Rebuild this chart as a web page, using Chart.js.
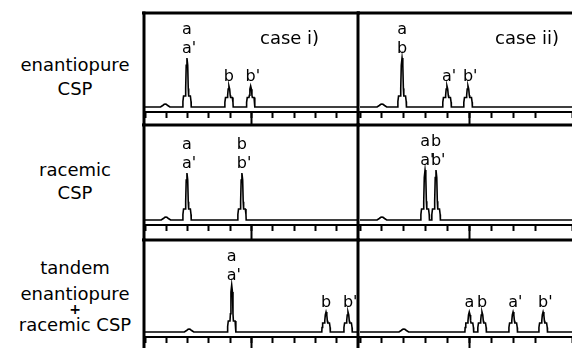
<!DOCTYPE html>
<html>
<head>
<meta charset="utf-8">
<script src="https://cdn.jsdelivr.net/npm/chart.js@4.4.0/dist/chart.umd.min.js"></script>
<style>
  html, body { margin: 0; padding: 0; background: #fff; }
  #wrap { position: relative; width: 572px; height: 348px; overflow: hidden; }
  canvas { position: absolute; }
  .rowlabel { position: absolute; left: 0; width: 150px; text-align: center;
              font: 18px "DejaVu Sans", sans-serif; line-height: 22px; color: #000; }
</style>
</head>
<body>
<div id="wrap"></div>
<script>
// ================= DATA =================
// peak positions in tick units (10 ticks per panel), peak heights in baseline units
const case1EnantioPos = [0.95, 1.97, 3.94, 4.96];
const case1EnantioHeight = [3, 49, 21, 21];
const case1EnantioLabels = [[], ["a", "a'"], ["b"], ["b'"]];

const case2EnantioPos = [1.0, 1.92, 3.97, 4.93];
const case2EnantioHeight = [3, 49, 21, 21];
const case2EnantioLabels = [[], ["a", "b"], ["a'"], ["b'"]];

const case1RacemicPos = [0.98, 1.97, 4.55];
const case1RacemicHeight = [3, 47, 47];
const case1RacemicLabels = [[], ["a", "a'"], ["b", "b'"]];

const case2RacemicPos = [1.0, 2.97, 3.47];
const case2RacemicHeight = [3, 50, 50];
const case2RacemicLabels = [[], ["a", "a'"], ["b", "b'"]];

const case1TandemPos = [2.07, 4.07, 8.5, 9.53];
const case1TandemHeight = [3, 47, 20, 20];
const case1TandemLabels = [[], ["a", "a'"], ["b"], ["b'"]];

const case2TandemPos = [2.0, 4.99, 5.57, 6.99, 8.36];
const case2TandemHeight = [3, 20, 20, 20, 20];
const case2TandemLabels = [[], ["a"], ["b"], ["a'"], ["b'"]];

const caseTitles = ["case i)", "case ii)"];
const rowTitles = [
  ["enantiopure", 65], ["CSP", 89],
  ["racemic", 170], ["CSP", 193],
  ["tandem", 268], ["enantiopure", 294], ["+", 309], ["racemic CSP", 325]
];

// ================= LAYOUT =================
const ROWS = [
  { top: 13, axis: 112, bottom: 125, base: 107 },
  { top: 125, axis: 225, bottom: 240, base: 220 },
  { top: 240, axis: 337, bottom: 348, base: 332 }
];
const COLS = [
  { left: 130, width: 230, padL: 15, padR: 2, max: 10, edge: 1, titleX: 115 },
  { left: 350, width: 222, padL: 10, padR: 0, max: 9.68, edge: 2, titleX: 135 }
];

const wrap = document.getElementById("wrap");

// ================= ROW LABELS =================
rowTitles.forEach(([txt, cy]) => {
  const d = document.createElement("div");
  d.className = "rowlabel";
  d.textContent = txt;
  d.style.top = (cy - 11) + "px";
  if (txt === "+") { d.style.fontSize = "14px"; d.style.fontWeight = "bold"; }
  wrap.appendChild(d);
});

// ================= PEAK SHAPE =================
function buildTrace(pos, height, max) {
  const pts = [{ x: 0, y: 0 }];
  pos.forEach((p, i) => {
    const h = height[i];
    let half;
    if (h < 6) {
      // tiny injection bump
      half = [[0.22, 0], [0.12, 0.5 * h], [0.05, 0.9 * h]];
    } else {
      const s = Math.min(11, h * 0.45);
      half = [[0.2, 0], [0.19, 0.5 * s], [0.16, s], [0.08, s], [0.06, s + 0.2 * (h - s)], [0.035, 0.85 * h]];
    }
    half.forEach(([dx, y]) => pts.push({ x: p - dx, y }));
    pts.push({ x: p, y: h });
    half.slice().reverse().forEach(([dx, y]) => pts.push({ x: p + dx, y }));
  });
  pts.push({ x: max, y: 0 });
  return pts;
}

// ================= FRAME + LABELS PLUGIN =================
const framePlugin = {
  id: "frame",
  afterDraw(chart, args, opts) {
    const { ctx, chartArea: a, scales: { x, y } } = chart;
    ctx.save();
    ctx.strokeStyle = "#000";
    ctx.fillStyle = "#000";
    ctx.lineWidth = 3;
    ctx.beginPath();
    ctx.moveTo(a.left - 3, a.top);
    ctx.lineTo(a.right + 2, a.top);
    ctx.stroke();
    ctx.beginPath();
    ctx.moveTo(a.left - opts.edge, a.top - 1.5);
    ctx.lineTo(a.left - opts.edge, chart.height);
    ctx.stroke();

    // major tick at the middle of the time axis
    ctx.lineWidth = 2;
    const xm = x.getPixelForValue(5);
    ctx.beginPath();
    ctx.moveTo(xm, a.bottom);
    ctx.lineTo(xm, chart.height);
    ctx.stroke();

    // peak labels
    ctx.font = '16px "DejaVu Sans", sans-serif';
    ctx.textAlign = "left";
    ctx.textBaseline = "alphabetic";
    opts.pos.forEach((p, i) => {
      const stack = opts.labels[i];
      const px = x.getPixelForValue(p);
      let by = y.getPixelForValue(opts.height[i]) - 5;
      for (let k = stack.length - 1; k >= 0; k--) {
        const w = ctx.measureText(stack[k][0]).width;
        ctx.fillText(stack[k], px - w / 2, by);
        by -= 19;
      }
    });

    if (opts.title) {
      ctx.font = '18px "DejaVu Sans", sans-serif';
      ctx.fillText(opts.title, a.left + opts.titleX, a.top + 31);
    }
    ctx.restore();
  }
};

// ================= PANELS =================
function makePanel(row, col, pos, height, labels, title) {
  const R = ROWS[row], C = COLS[col];
  const cv = document.createElement("canvas");
  const top = R.top - 10;
  cv.width = C.width;
  cv.height = R.bottom - top;
  cv.style.left = C.left + "px";
  cv.style.top = top + "px";
  wrap.appendChild(cv);

  new Chart(cv, {
    type: "line",
    data: {
      datasets: [{
        data: buildTrace(pos, height, C.max),
        borderColor: "#000",
        borderWidth: 1.6,
        pointRadius: 0,
        tension: 0,
        fill: false
      }]
    },
    options: {
      responsive: false,
      animation: false,
      devicePixelRatio: 1,
      layout: { padding: { top: 10, left: C.padL, right: C.padR, bottom: 0 } },
      plugins: {
        legend: { display: false },
        tooltip: { enabled: false },
        frame: { pos, height, labels, title, edge: C.edge, titleX: C.titleX }
      },
      scales: {
        x: {
          type: "linear",
          min: 0,
          max: C.max,
          ticks: { display: false, stepSize: 1 },
          grid: { drawOnChartArea: false, drawTicks: true, tickLength: 6, tickWidth: 2, tickColor: "#000" },
          border: { display: true, color: "#000", width: 2 },
          afterFit: s => { s.height = R.bottom - R.axis; }
        },
        y: {
          display: false,
          min: -(R.axis - R.base),
          max: R.base - R.top
        }
      }
    },
    plugins: [framePlugin]
  });
}

// ================= INIT =================
makePanel(0, 0, case1EnantioPos, case1EnantioHeight, case1EnantioLabels, caseTitles[0]);
makePanel(0, 1, case2EnantioPos, case2EnantioHeight, case2EnantioLabels, caseTitles[1]);
makePanel(1, 0, case1RacemicPos, case1RacemicHeight, case1RacemicLabels, null);
makePanel(1, 1, case2RacemicPos, case2RacemicHeight, case2RacemicLabels, null);
makePanel(2, 0, case1TandemPos, case1TandemHeight, case1TandemLabels, null);
makePanel(2, 1, case2TandemPos, case2TandemHeight, case2TandemLabels, null);
</script>
</body>
</html>
